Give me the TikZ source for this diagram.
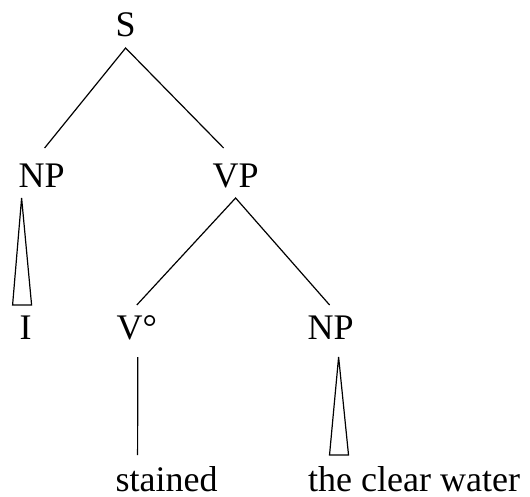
\documentclass[tikz,border=0pt]{standalone}
\usepackage{fontspec}
\setmainfont{Liberation Serif}
\usepackage{tikz}

\begin{document}
\begin{tikzpicture}[x=1pt,y=-1pt,line width=1.2pt,
    word/.style={anchor=base west,inner sep=0pt,font=\fontsize{36}{40}\selectfont}]
        \useasboundingbox (0,0) rectangle (530,497);
        % labels
        \node [word] (S) at (115,37) {S};
        \node [word] (NPa) at (18,188) {NP};
        \node [word] (VP) at (212,188) {VP};
        \node [word] (I) at (19,339) {I};
        \node [word] (V) at (116,339) {V°};
        \node [word] (NPb) at (307,339) {NP};
        \node [word] (stained) at (115,491) {stained};
        \node [word] (water) at (307.5,491) {the clear water};
        % branches
        \draw [black] ([shift={(3pt,40pt)}]NPa.base) -- ([yshift=-11pt]S.base) -- ([shift={(-12pt,40pt)}]VP.base);
        \draw [black] ([yshift=34pt]V.base) -- ([yshift=-10pt]VP.base) -- ([shift={(-1pt,34pt)}]NPb.base);
        \draw [black] ([shift={(1pt,-18pt)}]V.base) -- ([shift={(-29pt,36pt)}]stained.base);
        % triangles
        \draw [black] ([shift={(-20pt,-10pt)}]NPa.base) -- ([shift={(-13pt,34pt)}]I.base) -- ([shift={(6pt,34pt)}]I.base) -- cycle;
        \draw [black] ([shift={(8pt,-18pt)}]NPb.base) -- ([shift={(-84.5pt,36pt)}]water.base) -- ([shift={(-65.5pt,36pt)}]water.base) -- cycle;
    \end{tikzpicture}
\end{document}
